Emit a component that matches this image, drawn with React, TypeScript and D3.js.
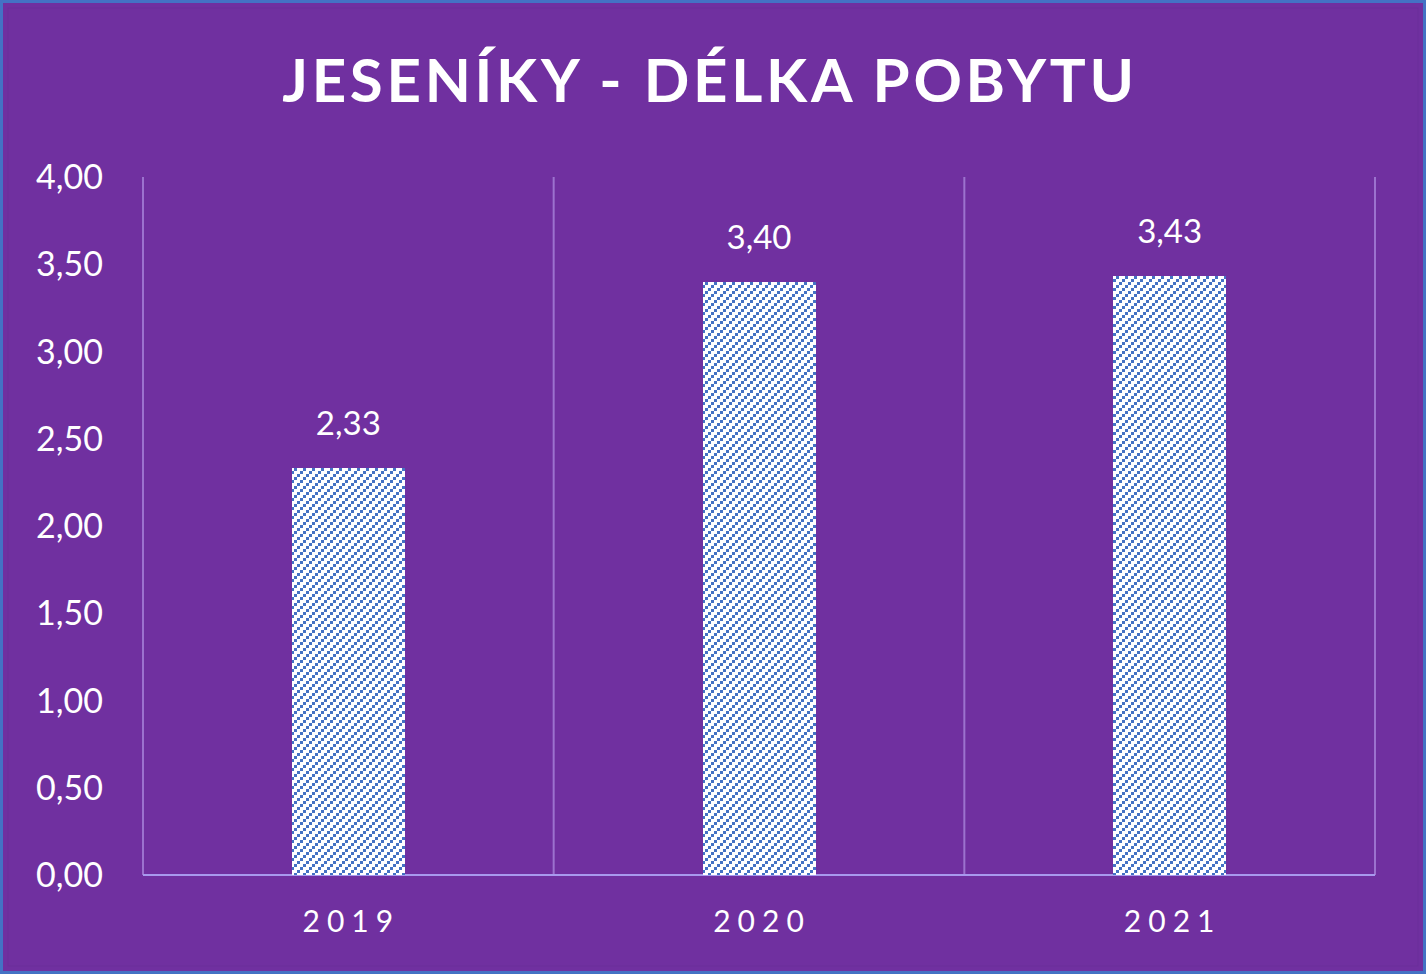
import React from "react";
import * as d3 from "d3";

const categories = ["2019", "2020", "2021"];
const values = [2.33, 3.4, 3.43];
const yTicks = [0, 0.5, 1, 1.5, 2, 2.5, 3, 3.5, 4];
const title = "JESENÍKY - DÉLKA POBYTU";

const W = 1426;
const H = 974;
const margin = { left: 143, right: 51, top: 177, bottom: 99 };

const fmt = (v: number) => v.toFixed(2).replace(".", ",");

export default function App() {
  const x = d3
    .scaleBand<string>()
    .domain(categories)
    .range([margin.left, W - margin.right])
    .paddingInner(0)
    .paddingOuter(0);
  const y = d3.scaleLinear().domain([0, 4]).range([H - margin.bottom, margin.top]);
  const bw = x.bandwidth() * 0.275;
  const font = "Lato, 'Open Sans', sans-serif";
  const bounds = [...categories.map((c) => x(c) as number), W - margin.right];

  return (
    <svg
      width={W}
      height={H}
      style={{ position: "fixed", left: 0, top: 0, display: "block" }}
    >
      <defs>
        <pattern id="hatch" width="9" height="9" patternUnits="userSpaceOnUse">
          <rect width="9" height="9" fill="#ffffff" />
          <g fill="#4472C4" shapeRendering="crispEdges">
            <rect x={0} y={6} width={3} height={3} />
            <rect x={3} y={3} width={3} height={3} />
            <rect x={6} y={0} width={3} height={3} />
          </g>
        </pattern>
      </defs>
      <rect x={0} y={0} width={W} height={H} fill="#4472C4" />
      <rect x={3} y={3} width={W - 6} height={H - 6} fill="#7030A0" />
      <rect x={8} y={8} width={W - 16} height={H - 16} fill="none" stroke="#6A2E9A" strokeWidth={1} />
      <text
        x={W / 2 - 3}
        y={102}
        textAnchor="middle"
        fill="#ffffff"
        fontFamily={font}
        fontWeight={700}
        fontSize={60}
        letterSpacing={3.7}
      >
        {title}
      </text>
      {bounds.map((b, i) => (
        <line key={i} x1={b} x2={b} y1={margin.top} y2={H - margin.bottom} stroke="#9C72CE" strokeWidth={2} />
      ))}
      <line x1={margin.left} x2={W - margin.right} y1={y(0)} y2={y(0)} stroke="#A899EE" strokeWidth={2} />
      {yTicks.map((t) => (
        <text key={t} x={103} y={y(t)} dy="0.36em" textAnchor="end" fill="#ffffff" fontFamily={font} fontSize={34}>
          {fmt(t)}
        </text>
      ))}
      {categories.map((c, i) => {
        const cx = (x(c) as number) + x.bandwidth() / 2;
        return (
          <g key={c}>
            <rect
              x={Math.round(cx - bw / 2)}
              y={Math.round(y(values[i]))}
              width={Math.round(bw)}
              height={Math.round(y(0)) - Math.round(y(values[i]))}
              fill="url(#hatch)"
            />
            <text x={cx} y={y(values[i]) - 33} textAnchor="middle" fill="#ffffff" fontFamily={font} fontSize={33}>
              {fmt(values[i])}
            </text>
            <text x={cx + 3} y={932} textAnchor="middle" fill="#ffffff" fontFamily={font} fontSize={30} letterSpacing={7}>
              {c}
            </text>
          </g>
        );
      })}
    </svg>
  );
}
